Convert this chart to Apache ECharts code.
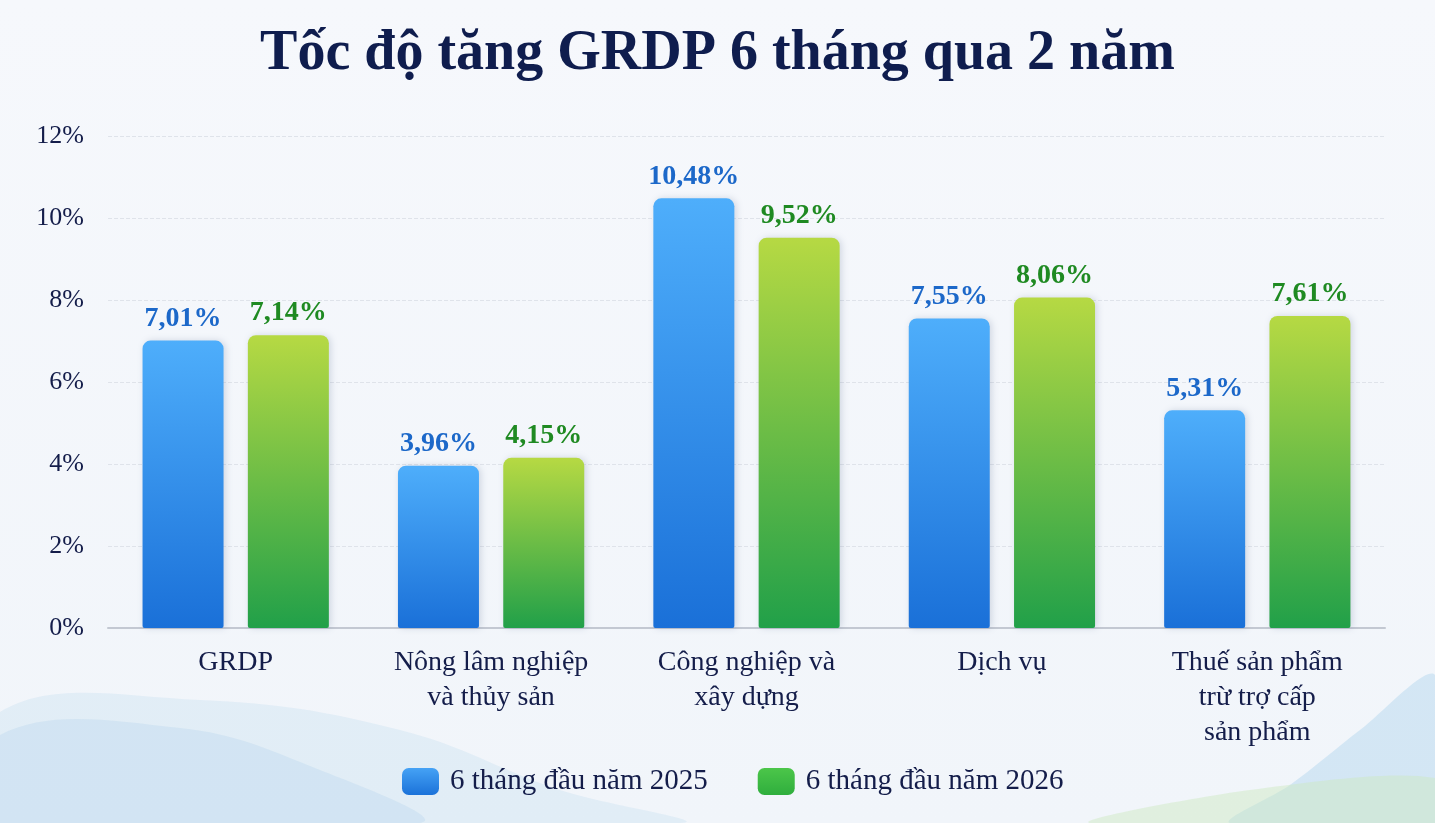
<!DOCTYPE html>
<html>
<head>
<meta charset="utf-8">
<script src="https://cdn.jsdelivr.net/npm/echarts@6/dist/echarts.min.js"></script>
<style>
html, body { margin: 0; padding: 0; background: #f4f7fb; }
#main { width: 1435px; height: 823px; }
</style>
</head>
<body>
<div id="main"></div>
<script>
var categories = ['GRDP', 'Nông lâm nghiệp\nvà thủy sản', 'Công nghiệp và\nxây dựng', 'Dịch vụ', 'Thuế sản phẩm\ntrừ trợ cấp\nsản phẩm'];
var seriesNames = ['6 tháng đầu năm 2025', '6 tháng đầu năm 2026'];
var values2025 = [7.01, 3.96, 10.48, 7.55, 5.31];
var values2026 = [7.14, 4.15, 9.52, 8.06, 7.61];

var serif = '"Liberation Serif", "DejaVu Serif", serif';

function fmt(v) {
    return v.toFixed(2).replace('.', ',') + '%';
}

window.onload = function(){
    var myChart = echarts.init(document.getElementById('main'));
    var blueGrad = new echarts.graphic.LinearGradient(0, 0, 0, 1, [
        {offset: 0, color: '#4eaefb'},
        {offset: 1, color: '#1a70d8'}
    ]);
    var greenGrad = new echarts.graphic.LinearGradient(0, 0, 0, 1, [
        {offset: 0, color: '#b6d943'},
        {offset: 1, color: '#21a049'}
    ]);
    var blueIcon = new echarts.graphic.LinearGradient(0, 0, 0, 1, [
        {offset: 0, color: '#45a2f5'},
        {offset: 1, color: '#1b72d9'}
    ]);
    var greenIcon = new echarts.graphic.LinearGradient(0, 0, 0, 1, [
        {offset: 0, color: '#4cc64a'},
        {offset: 1, color: '#2fae3d'}
    ]);
    var option = {
        backgroundColor: new echarts.graphic.LinearGradient(0, 0, 0, 1, [
            {offset: 0, color: '#f6f8fc'},
            {offset: 1, color: '#f1f5fa'}
        ]),
        // decorative waves at the bottom
        graphic: [
            {
                type: 'polygon', z: -10, silent: true,
                shape: {points: [[0, 712], [200, 700], [400, 730], [560, 790], [680, 823], [0, 823]], smooth: 0.4},
                style: {fill: 'rgba(190,218,238,0.3)'}
            },
            {
                type: 'polygon', z: -10, silent: true,
                shape: {points: [[0, 735], [180, 728], [320, 770], [420, 823], [0, 823]], smooth: 0.4},
                style: {fill: 'rgba(175,210,235,0.3)'}
            },
            {
                type: 'polygon', z: -10, silent: true,
                shape: {points: [[1435, 675], [1360, 730], [1290, 785], [1230, 823], [1435, 823]], smooth: 0.3},
                style: {fill: 'rgba(175,212,238,0.45)'}
            },
            {
                type: 'polygon', z: -10, silent: true,
                shape: {points: [[1090, 823], [1250, 790], [1435, 778], [1435, 823]], smooth: 0.3},
                style: {fill: 'rgba(205,232,190,0.45)'}
            }
        ],
        title: {
            text: 'Tốc độ tăng GRDP 6 tháng qua 2 năm',
            left: 'center',
            top: 22,
            textStyle: {
                fontFamily: serif,
                fontSize: 56,
                fontWeight: 'bold',
                color: '#0f1d4e'
            }
        },
        legend: {
            top: 762,
            left: 397,
            itemWidth: 37,
            itemHeight: 27,
            itemGap: 50,
            icon: 'roundRect',
            textStyle: {
                fontFamily: serif,
                fontSize: 29,
                color: '#141d4a',
                padding: [0, 0, 0, 6]
            },
            data: [
                {name: seriesNames[0], itemStyle: {color: blueIcon}},
                {name: seriesNames[1], itemStyle: {color: greenIcon}}
            ]
        },
        grid: {
            left: 108,
            right: 50,
            top: 136,
            bottom: 195
        },
        xAxis: {
            type: 'category',
            data: categories,
            axisTick: {show: false},
            axisLine: {lineStyle: {color: '#c3c8d2', width: 2}},
            axisLabel: {
                interval: 0,
                margin: 17,
                fontFamily: serif,
                fontSize: 28,
                lineHeight: 35,
                color: '#141d4a'
            }
        },
        yAxis: {
            type: 'value',
            min: 0,
            max: 12,
            interval: 2,
            axisLabel: {
                formatter: '{value}%',
                margin: 24,
                fontFamily: serif,
                fontSize: 26,
                color: '#141d4a'
            },
            splitLine: {lineStyle: {color: '#dfe3ea', type: 'dashed', width: 1}}
        },
        series: [
            {
                name: seriesNames[0],
                type: 'bar',
                barWidth: 81,
                barGap: '30%',
                data: values2025,
                itemStyle: {
                    color: blueGrad,
                    borderRadius: [8, 8, 2, 2],
                    shadowColor: 'rgba(60,80,120,0.2)',
                    shadowBlur: 7,
                    shadowOffsetX: 2
                },
                label: {
                    show: true,
                    position: 'top',
                    distance: 8,
                    formatter: function (p) { return fmt(p.value); },
                    fontFamily: serif,
                    fontSize: 28,
                    fontWeight: 'bold',
                    color: '#1c68c9'
                }
            },
            {
                name: seriesNames[1],
                type: 'bar',
                barWidth: 81,
                data: values2026,
                itemStyle: {
                    color: greenGrad,
                    borderRadius: [8, 8, 2, 2],
                    shadowColor: 'rgba(60,80,120,0.2)',
                    shadowBlur: 7,
                    shadowOffsetX: 2
                },
                label: {
                    show: true,
                    position: 'top',
                    distance: 8,
                    formatter: function (p) { return fmt(p.value); },
                    fontFamily: serif,
                    fontSize: 28,
                    fontWeight: 'bold',
                    color: '#1f8a22'
                }
            }
        ]
    };
    myChart.setOption(option);

    window.onresize = function () {
        myChart.resize();
    }
}
</script>
</body>
</html>
